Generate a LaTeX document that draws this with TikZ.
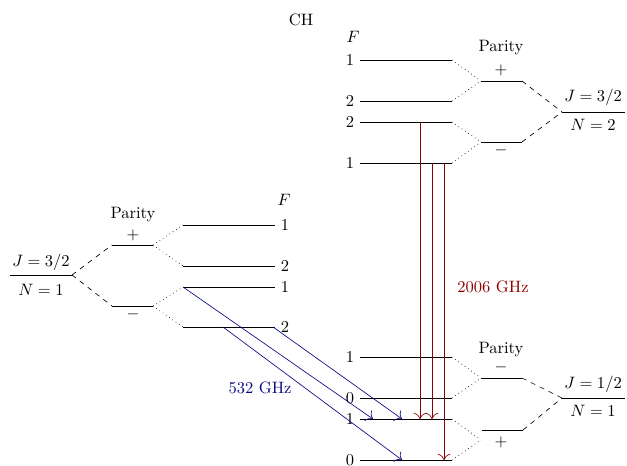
\documentclass[tikz,border=0pt]{standalone}
\usetikzlibrary{positioning,arrows.meta}
\definecolor{micro}{RGB}{10,10,130}
\definecolor{farir}{RGB}{139,0,0}
\tikzset{
    level/.style={semithick},
    hyper/.style={dotted},
    rot/.style={dashed},
    flabel/.style={inner sep=3.3pt},
    trans/.style={-{To[scale=1.5]}}
  }

\begin{document}
\begin{tikzpicture}[x=0.606pt,y=-0.606pt]
    \useasboundingbox (0,0) rectangle (627,465);
    \node (title) at (301,20) {CH};

    % N=1, J=3/2
    \draw[level] (10,275) -- (72,275) coordinate (J1);
    \node (J1t) at (41,262) {$J=3/2$};
    \node (J1b) at (41,290) {$N=1$};
    \draw[level] (112,245) coordinate (P1p) -- (153,245) coordinate (P1pe);
    \draw[level] (112,306) coordinate (P1m) -- (153,306) coordinate (P1me);
    \node (P1pt) at (133,215) {Parity};
    \node (P1ps) at (133,235) {$+$};
    \node (P1ms) at (133,314) {$-$};
    \draw[rot] (J1) -- (P1p);
    \draw[rot] (J1) -- (P1m);
    \foreach \y/\f [count=\i] in {225/1,266/2,287/1,327/2} {
      \draw[level] (183,\y) coordinate (A\i) -- (275,\y) node[right,flabel] (A\i f) {$\f$};
    }
    \node (AF) at (284,200) {$F$};
    \draw[hyper] (P1pe) -- (A1);
    \draw[hyper] (P1pe) -- (A2);
    \draw[hyper] (P1me) -- (A3);
    \draw[hyper] (P1me) -- (A4);

    % N=2, J=3/2
    \foreach \y/\f [count=\i] in {60/1,101/2,122/2,163/1} {
      \draw[level] (360,\y) node[left,flabel] (B\i f) {$\f$} -- (452,\y) coordinate (B\i);
    }
    \node (BF) at (353,37) {$F$};
    \draw[level] (481,81) coordinate (P2p) -- (522,81) coordinate (P2pe);
    \draw[level] (481,142) coordinate (P2m) -- (522,142) coordinate (P2me);
    \node (P2pt) at (501,48) {Parity};
    \node (P2ps) at (501,70) {$+$};
    \node (P2ms) at (501,150) {$-$};
    \draw[hyper] (B1) -- (P2p);
    \draw[hyper] (B2) -- (P2p);
    \draw[hyper] (B3) -- (P2m);
    \draw[hyper] (B4) -- (P2m);
    \draw[level] (562,112) coordinate (J2) -- (625,112);
    \node (J2t) at (593,97) {$J=3/2$};
    \node (J2b) at (593,125) {$N=2$};
    \draw[rot] (P2pe) -- (J2);
    \draw[rot] (P2me) -- (J2);

    % N=1, J=1/2
    \foreach \y/\f [count=\i] in {357/1,398/0,419/1,460/0} {
      \draw[level] (360,\y) node[left,flabel] (C\i f) {$\f$} -- (452,\y) coordinate (C\i);
    }
    \draw[level] (481,378) coordinate (P3m) -- (522,378) coordinate (P3me);
    \draw[level] (482,430) -- (523,430) coordinate (P3pe);
    \coordinate (P3p) at (481,440);
    \node (P3mt) at (501,350) {Parity};
    \node (P3ms) at (501,367) {$-$};
    \node (P3ps) at (501,442) {$+$};
    \draw[hyper] (C1) -- (P3m);
    \draw[hyper] (C2) -- (P3m);
    \draw[hyper] (C3) -- (P3p);
    \draw[hyper] (C4) -- (P3p);
    \draw[level] (562,398) coordinate (J3) -- (625,398);
    \node (J3t) at (593,384) {$J=1/2$};
    \node (J3b) at (593,411) {$N=1$};
    \draw[rot] (P3me) -- (J3);
    \draw[rot] (P3pe) -- (J3);

    % 532 GHz
    \coordinate (u1) at (183,287);
    \coordinate (u2) at (273,327);
    \coordinate (u3) at (223,327);
    \coordinate (d1) at (373,419);
    \coordinate (d2) at (402,419);
    \coordinate (d3) at (402,460);
    \foreach \i in {1,2,3} {
      \draw[micro,trans] (u\i) -- (d\i);
    }
    \node[text=micro] (mw) at (260,388) {532 GHz};

    % 2006 GHz
    \coordinate (r1) at (420,122);
    \coordinate (r2) at (432,163);
    \coordinate (r3) at (444,163);
    \coordinate (s1) at (420,419);
    \coordinate (s2) at (432,419);
    \coordinate (s3) at (444,460);
    \foreach \i in {1,2,3} {
      \draw[farir,trans] (r\i) -- (s\i);
    }
    \node[text=farir] (ir) at (493,287) {2006 GHz};

  \end{tikzpicture}
\end{document}
